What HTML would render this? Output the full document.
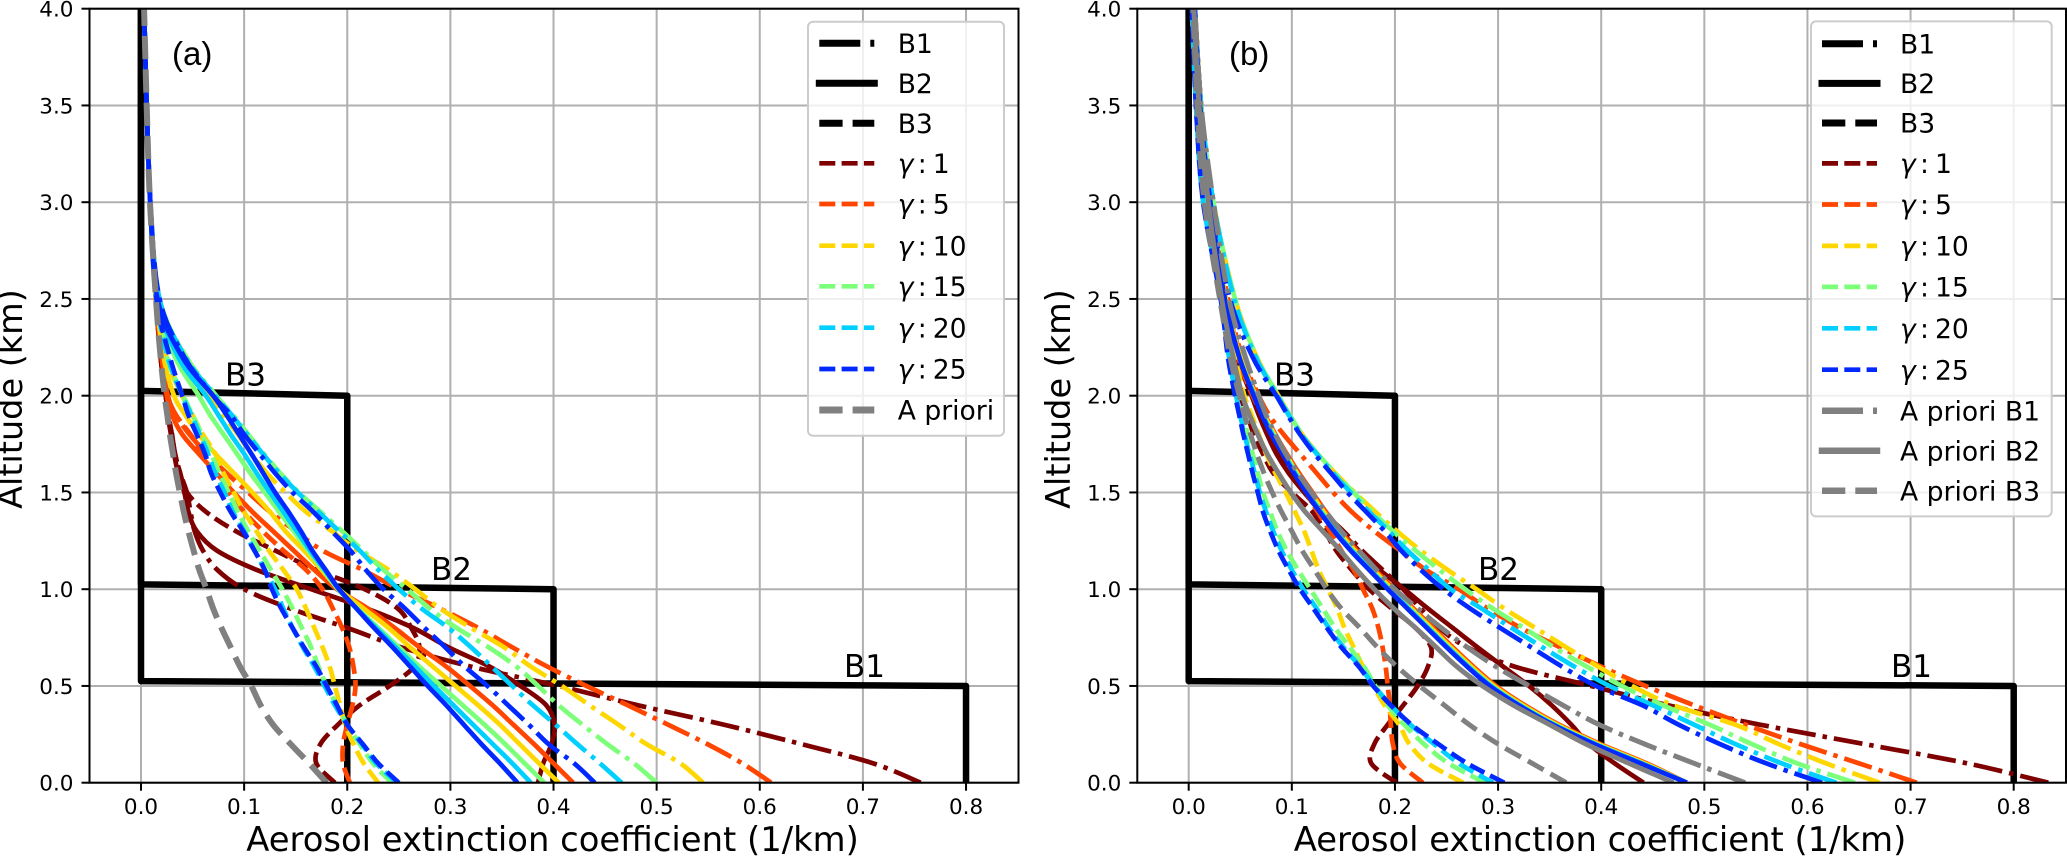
<!DOCTYPE html>
<html lang="en">
<head>
<meta charset="utf-8">
<title>Aerosol extinction profiles</title>
<style>
html,body{margin:0;padding:0;background:#fff;width:2067px;height:856px;overflow:hidden}
svg{display:block}
text{font-family:"DejaVu Sans","Liberation Sans",sans-serif;fill:#000}
</style>
</head>
<body>
<svg id="fig" xmlns="http://www.w3.org/2000/svg" width="2067" height="856" viewBox="0 0 2067 856"></svg>
<script>
// ---- shared axes data ----
const altitudes = [0,.1,.2,.3,.4,.5,.6,.7,.8,.9,1,1.1,1.2,1.3,1.4,1.5,1.6,1.7,1.8,1.9,2,2.2,2.5,3,3.5,4];
const xTickValues = [0,.1,.2,.3,.4,.5,.6,.7,.8];
const yTickValues = [0,.5,1,1.5,2,2.5,3,3.5,4];
const xTickLabels = ['0.0','0.1','0.2','0.3','0.4','0.5','0.6','0.7','0.8'];
const yTickLabels = ['0.0','0.5','1.0','1.5','2.0','2.5','3.0','3.5','4.0'];
const gammaLabels = ['1','5','10','15','20','25'];
const boxB1x = [.8,.8,0,0];
const boxB1y = [0,.5,.525,4];
const boxB2x = [.4,.4,0,0];
const boxB2y = [0,1,1.025,4];
const boxB3x = [.2,.2,0,0];
const boxB3y = [0,2,2.025,4];

// ---- panel (a) series, extinction at each altitude ----
const aG1B1 = [.756,.71,.64,.565,.482,.405,.32,.252,.2,.145,.1,.074,.06,.052,.048,.0445,.038,.033,.03,.0265,.024,.019,.0145,.009,.0055,.003];
const aG1B2 = [.385,.39,.398,.401,.393,.368,.338,.298,.264,.219,.165,.112,.0735,.054,.046,.042,.036,.032,.029,.026,.024,.019,.0145,.009,.0055,.003];
const aG1B3 = [.188,.17,.174,.191,.212,.241,.265,.27,.262,.249,.217,.17,.13,.092,.063,.0445,.038,.033,.03,.0265,.024,.019,.0145,.009,.0055,.003];
const aG5B1 = [.611,.583,.549,.511,.472,.432,.394,.36,.327,.29,.25,.215,.176,.15,.125,.104,.083,.064,.047,.034,.026,.02,.0145,.009,.0055,.003];
const aG5B2 = [.419,.4,.381,.361,.341,.319,.296,.27,.246,.22,.19,.168,.148,.128,.108,.09,.073,.056,.04,.03,.025,.02,.0145,.009,.0055,.003];
const aG5B3 = [.2025,.196,.196,.2,.205,.208,.206,.202,.195,.186,.176,.16,.138,.118,.1,.085,.072,.06,.048,.034,.026,.02,.0145,.009,.0055,.003];
const aG10B1 = [.545,.523,.49,.463,.435,.408,.378,.352,.32,.29,.266,.24,.21,.185,.16,.14,.122,.107,.094,.08,.068,.043,.018,.009,.0055,.003];
const aG10B2 = [.405,.386,.367,.348,.327,.305,.283,.261,.24,.216,.192,.175,.158,.14,.125,.108,.09,.072,.056,.043,.032,.022,.015,.009,.0055,.003];
const aG10B3 = [.23,.216,.206,.198,.193,.188,.183,.176,.168,.16,.151,.138,.124,.112,.1,.09,.08,.072,.06,.05,.04,.024,.015,.009,.0055,.003];
const aG15B1 = [.5,.478,.452,.428,.405,.385,.364,.337,.306,.28,.258,.235,.215,.195,.174,.153,.135,.119,.104,.089,.073,.044,.018,.009,.0055,.003];
const aG15B2 = [.391,.372,.353,.333,.312,.291,.27,.25,.23,.21,.191,.177,.162,.148,.134,.12,.106,.093,.08,.067,.056,.033,.015,.009,.0055,.003];
const aG15B3 = [.243,.225,.212,.2,.19,.18,.172,.165,.156,.147,.137,.126,.115,.104,.094,.085,.076,.068,.059,.05,.041,.025,.015,.009,.0055,.003];
const aG20B1 = [.466,.445,.423,.402,.38,.36,.34,.32,.298,.272,.25,.23,.212,.192,.172,.152,.134,.118,.103,.088,.072,.043,.018,.009,.0055,.003];
const aG20B2 = [.378,.36,.341,.322,.303,.284,.266,.247,.228,.209,.192,.178,.164,.151,.138,.125,.112,.1,.087,.075,.063,.036,.016,.009,.0055,.003];
const aG20B3 = [.248,.228,.214,.2,.188,.178,.168,.157,.147,.138,.13,.12,.11,.1,.089,.081,.072,.065,.057,.049,.04,.026,.015,.009,.0055,.003];
const aG25B1 = [.44,.42,.395,.376,.356,.336,.314,.295,.275,.256,.235,.218,.203,.185,.167,.147,.13,.115,.1,.087,.07,.042,.018,.009,.0055,.003];
const aG25B2 = [.365,.348,.33,.313,.296,.278,.261,.244,.226,.209,.192,.179,.166,.155,.143,.13,.1185,.107,.095,.083,.07,.04,.016,.009,.0055,.003];
const aG25B3 = [.25,.23,.215,.2,.19,.18,.17,.158,.147,.136,.127,.12,.11,.099,.087,.077,.068,.062,.054,.046,.04,.028,.015,.009,.0055,.003];
const aPrior = [.18,.163,.145,.128,.116,.107,.096,.087,.078,.07,.0635,.0565,.051,.046,.0415,.0377,.034,.031,.028,.0255,.023,.019,.0145,.0087,.0055,.003];

// ---- panel (b) series ----
const bG1B1 = [.8335,.755,.655,.554,.465,.39,.316,.27,.243,.225,.208,.188,.168,.15,.13,.114,.098,.086,.077,.069,.062,.048,.035,.022,.012,.006];
const bG1B2 = [.441,.413,.388,.371,.352,.33,.305,.28,.256,.232,.209,.185,.165,.147,.128,.112,.097,.085,.076,.068,.061,.047,.035,.022,.012,.006];
const bG1B3 = [.2015,.177,.18,.193,.208,.222,.232,.235,.22,.197,.175,.158,.143,.132,.12,.1,.082,.072,.063,.057,.05,.041,.033,.016,.008,.004];
const bG5B1 = [.706,.65,.593,.54,.49,.443,.4,.36,.322,.29,.262,.23,.205,.18,.158,.14,.124,.108,.092,.078,.068,.052,.038,.023,.012,.006];
const bG5B2 = [.483,.444,.399,.359,.326,.298,.276,.256,.237,.218,.199,.181,.163,.147,.133,.12,.107,.095,.084,.074,.066,.051,.036,.021,.011,.006];
const bG5B3 = [.227,.205,.198,.196,.195,.193,.191,.188,.184,.178,.169,.16,.148,.137,.125,.114,.103,.092,.082,.072,.062,.048,.036,.016,.008,.004];
const bG10B1 = [.67,.618,.572,.53,.47,.43,.397,.366,.336,.306,.279,.251,.225,.202,.181,.161,.142,.125,.11,.098,.087,.066,.045,.024,.012,.006];
const bG10B2 = [.483,.442,.397,.357,.324,.296,.274,.254,.235,.216,.197,.179,.161,.145,.131,.118,.105,.094,.083,.073,.065,.05,.036,.021,.011,.006];
const bG10B3 = [.266,.232,.214,.204,.19,.179,.169,.16,.151,.144,.135,.126,.119,.112,.103,.094,.084,.075,.068,.061,.054,.045,.034,.016,.008,.004];
const bG15B1 = [.646,.59,.546,.505,.46,.42,.386,.354,.325,.295,.268,.243,.22,.198,.178,.16,.142,.125,.11,.098,.087,.066,.045,.024,.012,.006];
const bG15B2 = [.483,.44,.395,.355,.322,.294,.272,.252,.233,.214,.195,.177,.159,.143,.129,.116,.104,.093,.082,.072,.064,.049,.035,.021,.011,.006];
const bG15B3 = [.287,.252,.228,.209,.193,.181,.17,.156,.142,.13,.118,.106,.095,.086,.079,.072,.067,.062,.057,.053,.048,.04,.033,.015,.008,.004];
const bG20B1 = [.628,.575,.53,.49,.45,.408,.374,.343,.313,.284,.254,.233,.212,.194,.175,.157,.14,.124,.109,.097,.086,.065,.044,.024,.012,.006];
const bG20B2 = [.483,.439,.394,.354,.321,.293,.271,.251,.232,.213,.194,.176,.158,.142,.128,.115,.103,.092,.081,.072,.064,.049,.035,.021,.011,.006];
const bG20B3 = [.295,.262,.238,.215,.196,.18,.166,.15,.136,.124,.111,.1,.09,.082,.075,.069,.064,.059,.054,.05,.046,.039,.032,.014,.007,.003];
const bG25B1 = [.614,.56,.515,.475,.44,.395,.362,.332,.302,.273,.247,.225,.206,.19,.172,.154,.138,.122,.108,.096,.085,.062,.04,.02,.011,.006];
const bG25B2 = [.483,.438,.393,.353,.32,.292,.27,.25,.231,.212,.193,.175,.157,.141,.127,.114,.102,.091,.08,.071,.063,.049,.035,.021,.011,.006];
const bG25B3 = [.306,.27,.242,.216,.196,.179,.165,.148,.134,.121,.108,.097,.087,.079,.072,.067,.062,.0575,.053,.049,.045,.038,.031,.014,.007,.003];
const bPriorB1 = [.5395,.49,.442,.398,.363,.33,.298,.27,.245,.222,.2,.182,.165,.148,.133,.119,.106,.094,.084,.075,.068,.055,.039,.024,.012,.006];
const bPriorB2 = [.47,.427,.385,.35,.315,.285,.26,.24,.22,.199,.18,.163,.147,.13,.113,.099,.087,.076,.067,.059,.052,.043,.032,.019,.01,.005];
const bPriorB3 = [.366,.333,.3,.272,.248,.224,.202,.183,.166,.148,.134,.122,.11,.1,.09,.081,.073,.066,.06,.054,.049,.04,.03,.015,.008,.004];

// ---- styling ----
const NS = 'http://www.w3.org/2000/svg';
const svg = document.getElementById('fig');
const gammaColors = ['#7f0000','#ff4600','#ffd700','#7cff79','#00d0ff','#0028ff'];
const thinDash = {B1:'29 7 4.5 7', B2:'', B3:'16 6.3'};
const thinWidth = 4.7;

function mk(tag, parent, attrs){
  const el = document.createElementNS(NS, tag);
  for(const k in attrs){ el.setAttribute(k, attrs[k]); }
  parent.appendChild(el);
  return el;
}
function pathSmooth(xs, ys, X, Y){
  const p = xs.map((v,i)=>[X(v),Y(ys[i])]);
  let d = 'M'+p[0][0].toFixed(2)+' '+p[0][1].toFixed(2);
  for(let i=0;i<p.length-1;i++){
    const a=p[Math.max(i-1,0)],b=p[i],c=p[i+1],e=p[Math.min(i+2,p.length-1)];
    const c1x=b[0]+(c[0]-a[0])/6,c1y=b[1]+(c[1]-a[1])/6;
    const c2x=c[0]-(e[0]-b[0])/6,c2y=c[1]-(e[1]-b[1])/6;
    d+='C'+c1x.toFixed(2)+' '+c1y.toFixed(2)+' '+c2x.toFixed(2)+' '+c2y.toFixed(2)+' '+c[0].toFixed(2)+' '+c[1].toFixed(2);
  }
  return d;
}
function pathStraight(xs, ys, X, Y){
  return xs.map((v,i)=>(i?'L':'M')+X(v).toFixed(2)+' '+Y(ys[i]).toFixed(2)).join('');
}

function drawPanel(cfg){
  const X = v => cfg.x0 + cfg.xScale*v;
  const Y = v => 782.7 - 193.5*v;
  const top = Y(4), bottom = Y(0);
  const g = mk('g', svg, {});
  
  

  const clip = mk('clipPath', g, {id:'clip-'+cfg.id});
  mk('rect', clip, {x:cfg.left, y:top, width:cfg.right-cfg.left, height:bottom-top});

  const gridG = mk('g', g, {stroke:'#b0b0b0','stroke-width':2,fill:'none'});
  
  
  xTickValues.forEach(v=>{
    const l = mk('line', gridG, {x1:X(v),x2:X(v),y1:top,y2:bottom});
    
    
  });
  yTickValues.forEach(v=>{
    const l = mk('line', gridG, {x1:cfg.left,x2:cfg.right,y1:Y(v),y2:Y(v)});
    
    
  });

  const plot = mk('g', g, {'clip-path':'url(#clip-'+cfg.id+')',fill:'none'});
  
  

  [['b1',boxB1x,boxB1y],['b2',boxB2x,boxB2y],['b3',boxB3x,boxB3y]].forEach(b=>{
    const p = mk('path', plot, {d:pathStraight(b[1],b[2],X,Y),stroke:'#000','stroke-width':6.5,'stroke-linejoin':'round'});
    
    
  });

  cfg.series.forEach((grp,gi)=>{
    ['B1','B2','B3'].forEach((kind,ki)=>{
      const p = mk('path', plot, {d:pathSmooth(grp[ki],altitudes,X,Y),stroke:gammaColors[gi],'stroke-width':thinWidth,'stroke-linejoin':'round'});
      if(thinDash[kind]) p.setAttribute('stroke-dasharray', thinDash[kind]);
      
      
    });
  });
  cfg.priors.forEach(pr=>{
    const p = mk('path', plot, {d:pathSmooth(pr.values,altitudes,X,Y),stroke:'#808080','stroke-width':pr.width});
    if(pr.dash) p.setAttribute('stroke-dasharray', pr.dash);
    
    
  });

  const frame = mk('rect', g, {x:cfg.left,y:top,width:cfg.right-cfg.left,height:bottom-top,fill:'none',stroke:'#000','stroke-width':2});
  
  

  xTickValues.forEach((v,i)=>{
    const t = mk('line', g, {x1:X(v),x2:X(v),y1:bottom,y2:bottom+8,stroke:'#000','stroke-width':2});
    
    
    const lb = mk('text', g, {x:X(v),y:814,'text-anchor':'middle','font-size':21.5});
    lb.textContent = xTickLabels[i];
    
    
  });
  yTickValues.forEach((v,i)=>{
    const t = mk('line', g, {x1:cfg.left-8,x2:cfg.left,y1:Y(v),y2:Y(v),stroke:'#000','stroke-width':2});
    
    
    const lb = mk('text', g, {x:cfg.left-16,y:Y(v)+7.8,'text-anchor':'end','font-size':21.5});
    lb.textContent = yTickLabels[i];
    
    
  });

  const xt = mk('text', g, {x:cfg.xLabelX,y:851,'text-anchor':'middle','font-size':33.8});
  xt.textContent = 'Aerosol extinction coefficient (1/km)';
  
  

  const yt = mk('text', g, {transform:'translate('+cfg.yLabelX+',399) rotate(-90)','text-anchor':'middle','font-size':33.5});
  yt.textContent = 'Altitude (km)';
  
  

  cfg.boxLabels.forEach(b=>{
    const t = mk('text', g, {x:b.x,y:b.y,'font-size':31});
    t.textContent = b.text;
    
    
  });

  const pl = mk('text', g, {x:cfg.tagX,y:65,'font-size':33});
  pl.setAttribute('style', 'font-family:"Liberation Sans",sans-serif');
  pl.textContent = cfg.tag;
  
  

  // legend
  const L = cfg.legend;
  const lg = mk('g', g, {});
  
  
  const bg = mk('rect', lg, {x:L.x,y:L.y,width:L.w,height:L.h,rx:5,ry:5,fill:'#fff','fill-opacity':.8,stroke:'#ccc','stroke-width':2});
  
  
  L.rows.forEach((r,i)=>{
    const y = L.rowY[i];
    const row = mk('g', lg, {});
    
    
    const ln = mk('line', row, {x1:L.hx,x2:L.hx+55,y1:y,y2:y,stroke:r.color,'stroke-width':r.width});
    if(r.dash) ln.setAttribute('stroke-dasharray', r.dash);
    if(r.square) ln.setAttribute('stroke-linecap', 'square');
    
    
    const tx = mk('text', row, {x:L.tx,y:y+9.6,'font-size':26.6});
    if(r.gamma){
      const s1 = mk('tspan', tx, {'font-style':'italic'});
      s1.textContent = 'γ';
      const s2 = mk('tspan', tx, {x:L.tx+20});
      s2.textContent = ':';
      const s3 = mk('tspan', tx, {x:L.tx+35});
      s3.textContent = r.gamma;
    } else {
      tx.textContent = r.text;
    }
    
    
  });
}

const blackRows = [
  {text:'B1',color:'#000',width:7,dash:'41 10 4.5 100'},
  {text:'B2',color:'#000',width:7,square:true},
  {text:'B3',color:'#000',width:7,dash:'23.3 10'}
];
const gammaRows = gammaLabels.map((g,i)=>({gamma:g,color:gammaColors[i],width:thinWidth,dash:'16 6.3'}));

drawPanel({
  id:'a', tag:'(a)', tagX:172, x0:141, xScale:1031.3, left:89.5, right:1018.5, xLabelX:552.5, yLabelX:22,
  series:[[aG1B1,aG1B2,aG1B3],[aG5B1,aG5B2,aG5B3],[aG10B1,aG10B2,aG10B3],[aG15B1,aG15B2,aG15B3],[aG20B1,aG20B2,aG20B3],[aG25B1,aG25B2,aG25B3]],
  priors:[{values:aPrior,width:6,dash:'23.3 10',name:'a-priori-curve'}],
  boxLabels:[{text:'B3',x:225,y:385.7},{text:'B2',x:431,y:580},{text:'B1',x:844,y:677}],
  legend:{x:808,y:21.7,w:196,h:414,hx:819.3,tx:897.7,
    rowY:[43.3,83.3,123.3,163.3,204,245.7,286.3,327.7,369,410],
    rows:blackRows.concat(gammaRows,[{text:'A priori',color:'#808080',width:7,dash:'23.3 10'}])}
});
drawPanel({
  id:'b', tag:'(b)', tagX:1229, x0:1188.7, xScale:1031.25, left:1137.3, right:2066, xLabelX:1600, yLabelX:1070,
  series:[[bG1B1,bG1B2,bG1B3],[bG5B1,bG5B2,bG5B3],[bG10B1,bG10B2,bG10B3],[bG15B1,bG15B2,bG15B3],[bG20B1,bG20B2,bG20B3],[bG25B1,bG25B2,bG25B3]],
  priors:[
    {values:bPriorB1,width:5,dash:'29 7 4.5 7',name:'a-priori-b1-curve'},
    {values:bPriorB2,width:5,dash:'',name:'a-priori-b2-curve'},
    {values:bPriorB3,width:5,dash:'18 8',name:'a-priori-b3-curve'}
  ],
  boxLabels:[{text:'B3',x:1274,y:385.7},{text:'B2',x:1478,y:580},{text:'B1',x:1891,y:677}],
  legend:{x:1811,y:21.4,w:240.7,h:495,hx:1822,tx:1900,
    rowY:[43.8,83.4,123,163.4,204.5,245.9,286.9,328.3,369.7,410.7,450.7,490.7],
    rows:blackRows.concat(gammaRows,[
      {text:'A priori B1',color:'#808080',width:6.5,dash:'41 10 4.5 100'},
      {text:'A priori B2',color:'#808080',width:6.5,square:true},
      {text:'A priori B3',color:'#808080',width:6.5,dash:'23.3 10'}
    ])}
});
</script>
</body>
</html>
